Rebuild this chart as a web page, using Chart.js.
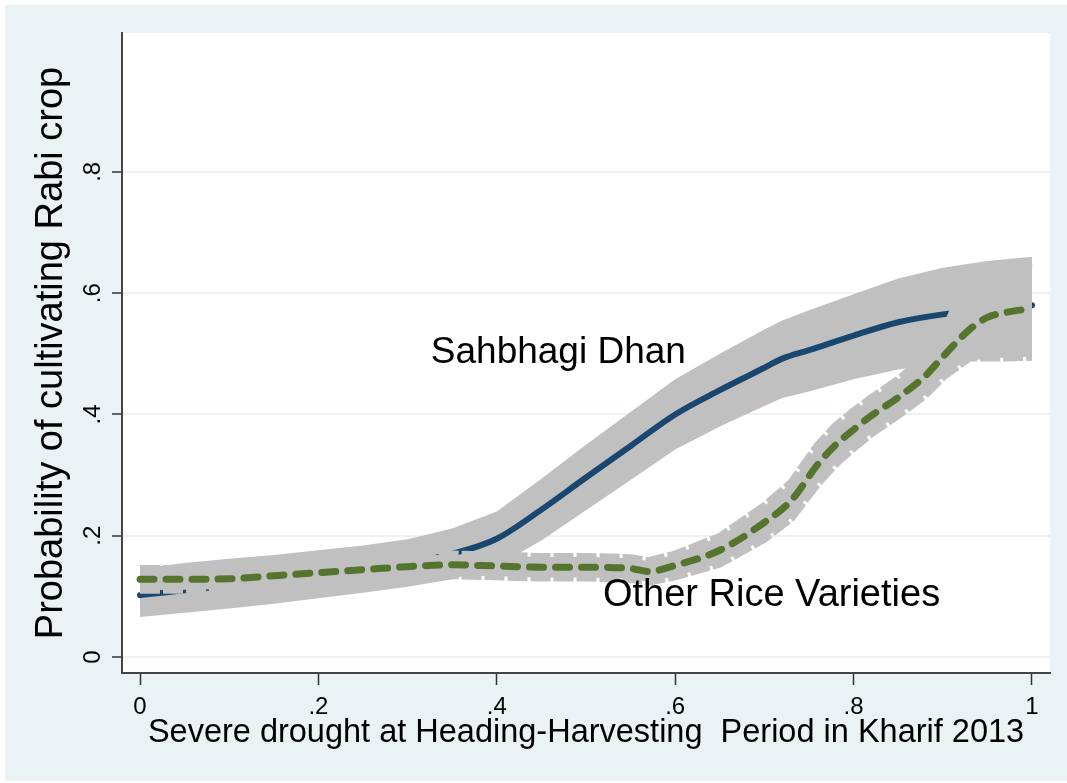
<!DOCTYPE html>
<html><head><meta charset="utf-8">
<script src="https://cdn.jsdelivr.net/npm/chart.js@4/dist/chart.umd.min.js"></script>
<style>html,body{margin:0;padding:0;background:#fff;} #wrap{width:1067px;height:783px;}</style>
</head><body><div id="wrap"><canvas id="c" width="1067" height="783"></canvas></div>
<script>
// Sahbhagi Dhan: fitted probability and confidence band
const sdX    = [0,0.05,0.1,0.15,0.2,0.25,0.3,0.35,0.4,0.45,0.5,0.55,0.6,0.65,0.7,0.72,0.75,0.8,0.85,0.9,0.95,1];
const sdFit  = [0.102,0.110,0.118,0.126,0.134,0.143,0.155,0.170,0.195,0.243,0.296,0.348,0.400,0.440,0.477,0.492,0.506,0.530,0.552,0.565,0.573,0.580];
const sdLow  = [0.066,0.073,0.080,0.088,0.097,0.106,0.116,0.128,0.150,0.192,0.242,0.292,0.342,0.380,0.414,0.427,0.438,0.458,0.474,0.484,0.492,0.497];
const sdHigh = [0.146,0.155,0.162,0.168,0.176,0.184,0.194,0.212,0.240,0.294,0.350,0.404,0.458,0.500,0.540,0.555,0.572,0.598,0.624,0.642,0.653,0.660];

// Other Rice Varieties: fitted probability and confidence band
const ovX    = [0,0.05,0.1,0.15,0.2,0.25,0.3,0.35,0.4,0.45,0.5,0.55,0.57,0.6,0.65,0.7,0.73,0.76,0.78,0.8,0.82,0.85,0.88,0.9,0.93,0.95,0.97,1];
const ovFit  = [0.128,0.128,0.129,0.134,0.139,0.144,0.149,0.152,0.150,0.148,0.148,0.146,0.141,0.151,0.176,0.222,0.258,0.318,0.350,0.375,0.398,0.428,0.463,0.495,0.540,0.560,0.568,0.575];
const ovLow  = [0.111,0.111,0.112,0.117,0.122,0.127,0.132,0.135,0.133,0.131,0.131,0.129,0.124,0.133,0.154,0.195,0.229,0.287,0.319,0.345,0.369,0.399,0.432,0.462,0.494,0.494,0.494,0.495];
const ovHigh = [0.145,0.145,0.146,0.151,0.156,0.161,0.166,0.169,0.167,0.165,0.165,0.163,0.158,0.169,0.198,0.249,0.287,0.349,0.381,0.405,0.427,0.457,0.494,0.530,0.632,0.643,0.647,0.651];

// Axis ticks
const xTicks = [0,0.2,0.4,0.6,0.8,1];
const xTickLabels = ['0','.2','.4','.6','.8','1'];
const yTicks = [0,0.2,0.4,0.6,0.8];
const yTickLabels = ['0','.2','.4','.6','.8'];

const seriesNames = ['Sahbhagi Dhan','Other Rice Varieties'];

const toPts = (xs, ys) => xs.map((x,i)=>({x:x, y:ys[i]}));

Chart.defaults.font.family = "'Liberation Sans', Arial, sans-serif";
Chart.defaults.color = '#000';

const GRAY = '#C0C0C0';
const BLUE = '#1A476F';
const GREEN = '#55752F';
const BG = '#EAF2F3';

const bgPlugin = {
  id: 'bg',
  beforeDraw(chart) {
    const {ctx, chartArea: a} = chart;
    ctx.save();
    ctx.fillStyle = '#fff';
    ctx.fillRect(0, 0, chart.width, chart.height);
    ctx.fillStyle = BG;
    ctx.fillRect(5, 5, chart.width - 5, chart.height - 7);
    ctx.fillStyle = '#fff';
    ctx.fillRect(a.left, a.top, a.right - a.left, a.bottom - a.top);
    ctx.restore();
  }
};

const labelAnchors = [
  {text: seriesNames[0], x: 0.326, y: 0.485, size: 37},
  {text: seriesNames[1], x: 0.519, y: 0.084, size: 38}
];

const labelPlugin = {
  id: 'lbl',
  afterDatasetsDraw(chart) {
    const {ctx} = chart;
    const xs = chart.scales.x, ys = chart.scales.y;
    ctx.save();
    ctx.fillStyle = '#000';
    ctx.textAlign = 'left';
    ctx.textBaseline = 'alphabetic';
    labelAnchors.forEach(l => {
      ctx.font = l.size + "px 'Liberation Sans', Arial, sans-serif";
      ctx.fillText(l.text, xs.getPixelForValue(l.x), ys.getPixelForValue(l.y));
    });
    ctx.restore();
  }
};

const base = {pointRadius: 0, pointHoverRadius: 0, tension: 0, spanGaps: true};
const bandEdge = {borderColor: GRAY, borderWidth: 8, borderDash: [20, 3], borderCapStyle: 'butt', borderJoinStyle: 'round'};

new Chart(document.getElementById('c'), {
  type: 'line',
  data: {
    datasets: [
      Object.assign({}, base, {label: 'sd low', data: toPts(sdX, sdLow), borderWidth: 0, borderColor: 'rgba(0,0,0,0)', fill: false, order: 10}),
      Object.assign({}, base, {label: 'sd CI', data: toPts(sdX, sdHigh), borderWidth: 0, borderColor: 'rgba(0,0,0,0)', backgroundColor: GRAY, fill: 0, order: 9}),
      Object.assign({}, base, {label: seriesNames[0], data: toPts(sdX, sdFit), borderColor: BLUE, borderWidth: 6, borderCapStyle: 'round', borderJoinStyle: 'round', cubicInterpolationMode: 'monotone', fill: false, order: 8}),
      Object.assign({}, base, bandEdge, {label: 'ov low', data: toPts(ovX, ovLow), fill: false, order: 7}),
      Object.assign({}, base, bandEdge, {label: 'ov CI', data: toPts(ovX, ovHigh), backgroundColor: GRAY, fill: 3, order: 6}),
      Object.assign({}, base, {label: seriesNames[1], data: toPts(ovX, ovFit), borderColor: GREEN, borderWidth: 7, borderDash: [14, 12], borderCapStyle: 'round', borderJoinStyle: 'round', cubicInterpolationMode: 'monotone', fill: false, order: 5})
    ]
  },
  options: {
    responsive: false,
    animation: false,
    devicePixelRatio: 1,
    layout: {padding: {top: 33, right: 17, bottom: 0, left: 0}},
    plugins: {legend: {display: false}, tooltip: {enabled: false}},
    scales: {
      x: {
        type: 'linear',
        min: -0.0202, max: 1.0202,
        afterBuildTicks: s => { s.ticks = xTicks.map(v => ({value: v})); },
        afterFit: s => { s.height = 110; },
        ticks: {
          font: {size: 24},
          padding: 8,
          maxRotation: 0, minRotation: 0,
          callback: (v, i) => xTickLabels[i]
        },
        grid: {drawOnChartArea: false, drawTicks: true, tickLength: 12, tickColor: '#333', tickWidth: 1.5},
        border: {display: true, color: '#444', width: 2},
        title: {
          display: true,
          text: 'Severe drought at Heading-Harvesting  Period in Kharif 2013',
          font: {size: 32.5},
          padding: {top: 0, bottom: 30},
          color: '#000'
        }
      },
      y: {
        type: 'linear',
        min: -0.0264, max: 1.029,
        afterBuildTicks: s => { s.ticks = yTicks.map(v => ({value: v})); },
        afterFit: s => { s.width = 122; },
        ticks: {
          font: {size: 24},
          padding: 9,
          minRotation: 90, maxRotation: 90,
          crossAlign: 'center',
          callback: (v, i) => yTickLabels[i]
        },
        grid: {color: BG, lineWidth: 2, drawTicks: true, tickLength: 10, tickColor: '#333', tickWidth: 1.5},
        border: {display: true, color: '#444', width: 2},
        title: {
          display: true,
          text: 'Probability of cultivating Rabi crop',
          font: {size: 38},
          padding: {top: 29, bottom: 0},
          color: '#000'
        }
      }
    }
  },
  plugins: [bgPlugin, labelPlugin]
});
</script>
</body></html>
